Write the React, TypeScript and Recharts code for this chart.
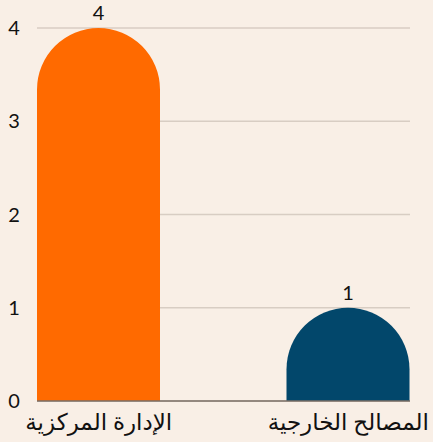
import React from "react";
import { BarChart, Bar, XAxis, YAxis, CartesianGrid, Cell, LabelList } from "recharts";

const CATEGORIES = ["الإدارة المركزية", "المصالح الخارجية"];
const VALUES = [4, 1];
const COLORS = ["#ff6a00", "#02476b"];
const Y_TICKS = [0, 1, 2, 3, 4];

const data = CATEGORIES.map((name, i) => ({ name, value: VALUES[i] }));

const FONT = "Lato, 'DejaVu Sans', sans-serif";

const YTick = (props: any) => {
  const { y, payload } = props;
  return (
    <text x={14} y={y} dy={7} textAnchor="middle" fontSize={20} fill="#111" fontFamily={FONT}>
      {payload.value}
    </text>
  );
};

const XTick = (props: any) => {
  const { x, y, payload } = props;
  return (
    <text x={x} y={y} dy={21} textAnchor="middle" fontSize={23} fill="#111" fontFamily={FONT}>
      {payload.value}
    </text>
  );
};

// rounded top: full semicircle of radius width/2, not clamped by height
const PillBar = (props: any) => {
  const { x, y, width, height, fill } = props;
  const r = Math.min(width / 2, height);
  const bottom = y + height;
  const d = `M${x},${bottom} L${x},${y + r} A${r},${r} 0 0 1 ${x + width},${y + r} L${x + width},${bottom} Z`;
  return <path d={d} fill={fill} />;
};

export default function App() {
  return (
    <div
      style={{
        position: "absolute",
        left: 0,
        top: 0,
        width: 433,
        height: 442,
        background: "#f9efe6",
      }}
    >
      <BarChart
        width={433}
        height={442}
        data={data}
        margin={{ top: 28, right: 23, bottom: 0, left: 0 }}
        barSize={123}
      >
        <CartesianGrid vertical={false} stroke="#d8cdc3" strokeWidth={1.5} />
        <XAxis
          dataKey="name"
          padding={{ left: -63, right: -63 }}
          axisLine={{ stroke: "#7a6e66", strokeWidth: 1.5 }}
          tickLine={false}
          height={41}
          tick={<XTick />}
          interval={0}
        />
        <YAxis
          width={37}
          domain={[0, 4]}
          ticks={Y_TICKS}
          axisLine={false}
          tickLine={false}
          tick={<YTick />}
        />
        <Bar dataKey="value" shape={<PillBar />} isAnimationActive={false}>
          {data.map((d, i) => (
            <Cell key={d.name} fill={COLORS[i]} />
          ))}
          <LabelList
            dataKey="value"
            position="top"
            offset={8}
            fontSize={20}
            fill="#111"
            fontFamily={FONT}
          />
        </Bar>
      </BarChart>
    </div>
  );
}
